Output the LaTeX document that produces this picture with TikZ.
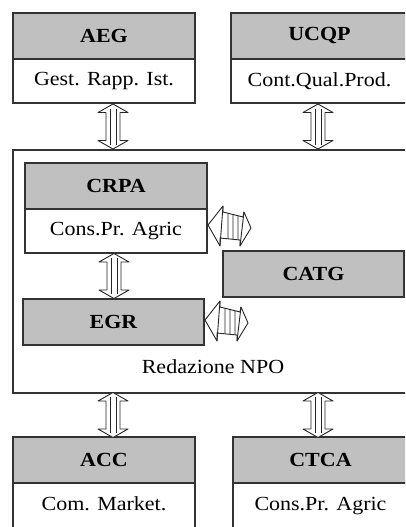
\documentclass[tikz,border=0pt]{standalone}
\usepackage{fontspec}
\setmainfont{Liberation Serif}[FakeStretch=1.1]
\usetikzlibrary{positioning,calc}
\definecolor{headGray}{HTML}{C0C0C0}
\definecolor{lineGray}{HTML}{333333}

\begin{document}
\begin{tikzpicture}[
    x=1pt, y=-1pt,
    every node/.style={font=\fontsize{20}{22}\selectfont},
    head/.style={rectangle,draw=lineGray,fill=headGray,line width=1.6pt,outer sep=0pt,inner sep=0pt,
                 minimum width=182pt,minimum height=46pt,font=\fontsize{20}{22}\selectfont\bfseries},
    sub/.style ={rectangle,draw=lineGray,fill=white,line width=1.6pt,outer sep=0pt,inner sep=0pt,
                 minimum width=182pt,minimum height=44pt},
    arrowline/.style={draw=black!85,fill=white,line width=0.9pt,line join=round},
    stripe/.style={black!85,line width=0.9pt},
    vdouble/.pic={
      \draw[arrowline] (0,-22.5) -- (15,-14) -- (7,-14) -- (7,14) -- (15,14) -- (0,22.5)
        -- (-15,14) -- (-7,14) -- (-7,-14) -- (-15,-14) -- cycle;
      \draw[stripe] (-3,-18) -- (-3,18) (3,-18) -- (3,18);
    },
    hdouble/.pic={
      \draw[arrowline] (-21,-1) -- (-6,-20) -- (-6,-14) -- (14,-9) -- (15,-14) -- (22,2)
        -- (11,20) -- (11,14) -- (-9,12) -- (-9,20) -- cycle;
      \draw[stripe] (-6,-20) -- (-9,20) (15,-14) -- (11,20)
        (-1,-12.7) -- (-1,12.8) (4,-11.5) -- (4,13.3) (9,-10.2) -- (9,13.8);
    }
  ]
  \useasboundingbox (0,0) rectangle (405,527);
  \clip (0,0) rectangle (405,527);
  %% Top units
  \node[head] (aeg) at (104,36) {AEG};
  \node[sub,below=0pt of aeg] (aegsub) {Gest. Rapp. Ist.};
  \node[head,minimum width=177pt] (ucqp) at (319.5,36) {UCQP};
  \node[sub,minimum width=177pt,below=0pt of ucqp] (ucqpsub) {Cont.Qual.Prod.};
  %% Redazione NPO
  \node[rectangle,draw=lineGray,line width=1.6pt,outer sep=0pt,minimum width=397pt,minimum height=243pt] (npo) at (211.5,271.5) {};
  \node[head] (crpa) at (116,186) {CRPA};
  \node[sub,below=0pt of crpa] (crpasub) {Cons.Pr. Agric};
  \node[head,minimum width=181pt] (catg) at (313.5,274) {CATG};
  \node[head,minimum width=181pt] (egr) at (113.5,322) {EGR};
  \node (npolabel) at (213,367) {Redazione NPO};
  %% Bottom units
  \node[head] (acc) at (104,460) {ACC};
  \node[sub,minimum height=50pt,below=0pt of acc] (accsub) {\raisebox{9pt}{Com. Market.}};
  \node[head,minimum width=175pt] (ctca) at (320.5,460) {CTCA};
  \node[sub,minimum width=175pt,minimum height=50pt,below=0pt of ctca] (ctcasub) {\raisebox{9pt}{Cons.Pr. Agric}};
  %% Double arrows
  \pic at ($(aegsub.south)!0.5!(aegsub.south |- npo.north)+(9,0)$) {vdouble};
  \pic at ($(ucqpsub.south)!0.5!(ucqpsub.south |- npo.north)+(-1.5,0)$) {vdouble};
  \pic at ($(crpasub.south)!0.5!(crpasub.south |- egr.north)+(-2,0)$) {vdouble};
  \pic at ($(npo.south -| acc.north)!0.5!(acc.north)+(9,0)$) {vdouble};
  \pic at ($(npo.south -| ctca.north)!0.5!(ctca.north)+(-2.5,0)$) {vdouble};
  \pic at ($(crpasub.east)+(22,-5)$) {hdouble};
  \pic at ($(egr.east)+(22,-1)$) {hdouble};
\end{tikzpicture}
\end{document}
